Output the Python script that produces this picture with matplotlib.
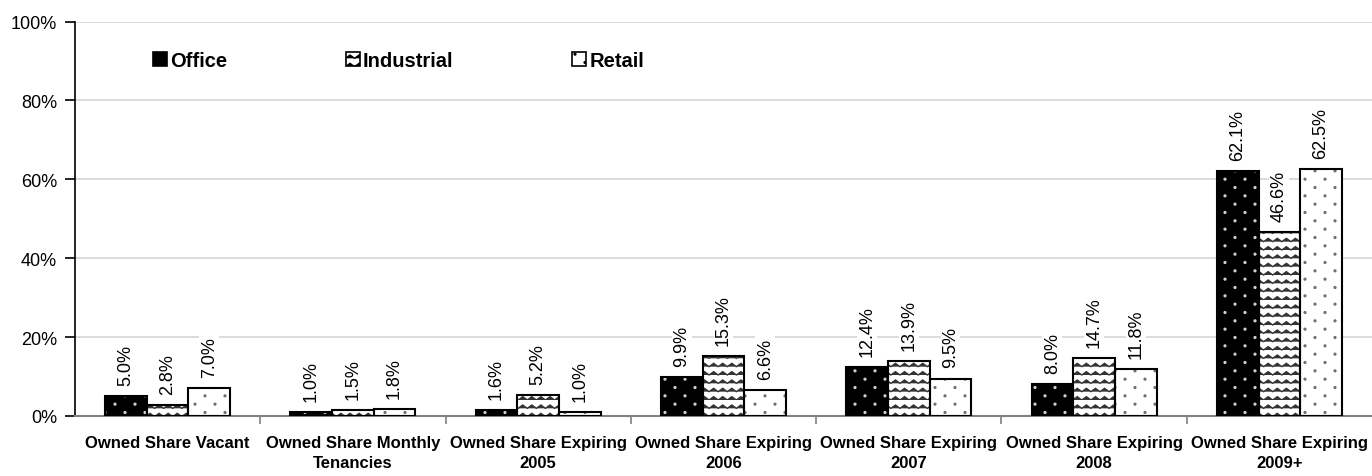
import warnings
import numpy as np
import matplotlib
matplotlib.use("Agg")
import matplotlib.pyplot as plt
import matplotlib.hatch as mhatch
from matplotlib.path import Path
from matplotlib.patches import Patch

warnings.filterwarnings("ignore")

# --- data (percent of owned share) ---
categories = ["Owned Share Vacant", "Owned Share Monthly\nTenancies",
              "Owned Share Expiring\n2005", "Owned Share Expiring\n2006",
              "Owned Share Expiring\n2007", "Owned Share Expiring\n2008",
              "Owned Share Expiring\n2009+"]
office = [5.0, 1.0, 1.6, 9.9, 12.4, 8.0, 62.1]
industrial = [2.8, 1.5, 5.2, 15.3, 13.9, 14.7, 46.6]
retail = [7.0, 1.8, 1.0, 6.6, 9.5, 11.8, 62.5]
series_names = ["Office", "Industrial", "Retail"]


# --- custom hatches: 'd' = staggered dots, 'z' = zigzag ---
class DotHatch(mhatch.HatchPatternBase):
    rows = 12
    cols = 5
    radius = 0.009

    def __init__(self, hatch, density):
        n = hatch.count('d')
        self.circle = Path.unit_circle()
        self.num_shapes = self.rows * self.cols if n else 0
        self.num_vertices = self.num_shapes * len(self.circle.vertices)

    def set_vertices_and_codes(self, vertices, codes):
        nv = len(self.circle.vertices)
        k = 0
        for r in range(self.rows):
            for c in range(self.cols):
                cx = (c + 0.25 + 0.5 * (r % 2)) / self.cols
                cy = (r + 0.5) / self.rows
                vertices[k:k + nv] = self.circle.vertices * self.radius + [cx, cy]
                codes[k:k + nv] = self.circle.codes
                k += nv


class ZigZagHatch(mhatch.HatchPatternBase):
    def __init__(self, hatch, density):
        n = hatch.count('z')
        self.num_rows = 12 * n
        self.num_periods = 11
        self.num_vertices = self.num_rows * (2 * self.num_periods + 1)

    def set_vertices_and_codes(self, vertices, codes):
        npts = 2 * self.num_periods + 1
        xs = np.linspace(0.0, 1.0, npts)
        step = 1.0 / self.num_rows
        amp = step * 0.4
        for r in range(self.num_rows):
            y0 = r * step
            sl = slice(r * npts, (r + 1) * npts)
            vertices[sl, 0] = xs
            vertices[sl, 1] = y0 + amp * (np.arange(npts) % 2)
            codes[sl] = Path.LINETO
            codes[r * npts] = Path.MOVETO


mhatch._hatch_types.append(DotHatch)
mhatch._hatch_types.append(ZigZagHatch)

plt.rcParams['hatch.linewidth'] = 1.0
plt.rcParams['font.family'] = ['Liberation Sans', 'DejaVu Sans']

fig = plt.figure(figsize=(13.72, 4.77), dpi=100)
ax = fig.add_axes([75 / 1372, 60 / 477, 1297 / 1372, 394.5 / 477])

x = np.arange(len(categories))
w = 0.225
styles = [
    dict(color='black', hatch='d', hcolor='#d0d0d0'),
    dict(color='white', hatch='z', hcolor='#333333'),
    dict(color='white', hatch='d', hcolor='#707070'),
]
handles = []
for i, (vals, st) in enumerate(zip([office, industrial, retail], styles)):
    pos = x + (i - 1) * w
    ax.bar(pos, vals, w, color=st['color'], hatch=st['hatch'],
           edgecolor=st['hcolor'], linewidth=0, zorder=2)
    bars = ax.bar(pos, vals, w, fill=False, edgecolor='black',
                  linewidth=1.5, zorder=3)
    for b, v in zip(bars, vals):
        ax.annotate(f"{v:.1f}%", (b.get_x() + b.get_width() / 2, v),
                    xytext=(0, 8), textcoords='offset points',
                    ha='center', va='bottom', rotation=90, fontsize=13,
                    bbox=dict(facecolor='white', edgecolor='none', pad=1),
                    zorder=4)
    handles.append(Patch(facecolor=st['color'], edgecolor='black',
                         hatch=st['hatch'], linewidth=1.2))

ax.set_xlim(-0.5, len(categories) - 0.5)
ax.set_ylim(0, 100)
ax.set_yticks(np.arange(0, 101, 20))
ax.set_yticklabels([f"{t}%" for t in range(0, 101, 20)], fontsize=13)
ax.set_xticks(x)
ax.set_xticklabels(categories, fontsize=12, fontweight='bold', linespacing=1.35)
ax.set_xticks(x[:-1] + 0.5, minor=True)
ax.tick_params(axis='x', which='major', length=0, pad=14)
ax.tick_params(axis='x', which='minor', length=6, width=1.2, color='#808080')
ax.tick_params(axis='y', length=7, width=1.2, pad=6)

ax.grid(axis='y', color='#d9d9d9', linewidth=1.3, zorder=0)
ax.set_axisbelow(True)
for s in ['top', 'right']:
    ax.spines[s].set_visible(False)
ax.spines['bottom'].set_color('#808080')
ax.spines['bottom'].set_linewidth(1.5)
ax.spines['left'].set_linewidth(1.2)

ax.legend(handles, series_names, loc='center left', bbox_to_anchor=(0.046, 0.902),
          ncol=3, frameon=False, handlelength=0.7, handleheight=0.7,
          handletextpad=0.15, columnspacing=5.9,
          prop=dict(family='Liberation Sans', weight='bold', size=14.5))

fig.savefig("out.png", dpi=100)
